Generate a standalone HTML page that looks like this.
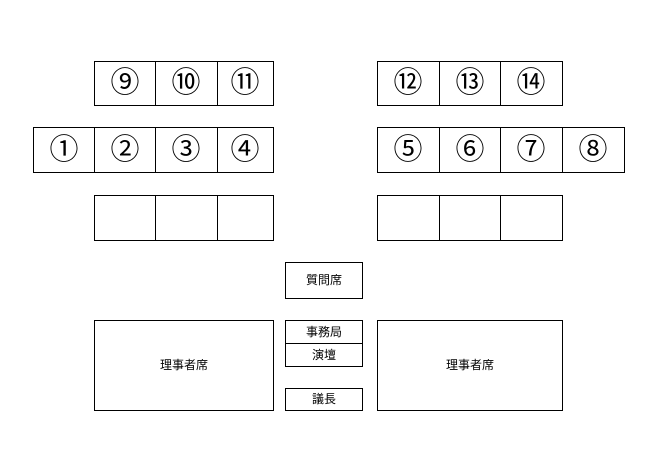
<!DOCTYPE html>
<html><head><meta charset="utf-8"><style>
html,body{margin:0;padding:0;background:#fff;}
svg{display:block}
text{font-family:"Liberation Sans","Noto Sans CJK JP",sans-serif;fill:#000;text-anchor:middle;dominant-baseline:central}
.n{font-size:29px}
.s{font-size:12px}
rect{fill:#fff;stroke:#000;stroke-width:1}
</style></head><body>
<svg width="654" height="466" xmlns="http://www.w3.org/2000/svg">
<g>
<rect x="94.5" y="61.5" width="61" height="44"/><rect x="155.5" y="61.5" width="62" height="44"/><rect x="217.5" y="61.5" width="56" height="44"/>
<text class="n" x="125" y="83">⑨</text><text class="n" x="186" y="83">⑩</text><text class="n" x="245" y="83">⑪</text>

<rect x="33.5" y="127.5" width="61" height="45"/><rect x="94.5" y="127.5" width="61" height="45"/><rect x="155.5" y="127.5" width="62" height="45"/><rect x="217.5" y="127.5" width="56" height="45"/>
<text class="n" x="64" y="150">①</text><text class="n" x="125" y="150">②</text><text class="n" x="186" y="150">③</text><text class="n" x="245" y="150">④</text>

<rect x="94.5" y="195.5" width="61" height="45"/><rect x="155.5" y="195.5" width="62" height="45"/><rect x="217.5" y="195.5" width="56" height="45"/>

<rect x="377.5" y="61.5" width="62" height="44"/><rect x="439.5" y="61.5" width="61" height="44"/><rect x="500.5" y="61.5" width="62" height="44"/>
<text class="n" x="408" y="83">⑫</text><text class="n" x="470" y="83">⑬</text><text class="n" x="531" y="83">⑭</text>

<rect x="377.5" y="127.5" width="62" height="45"/><rect x="439.5" y="127.5" width="61" height="45"/><rect x="500.5" y="127.5" width="62" height="45"/><rect x="562.5" y="127.5" width="62" height="45"/>
<text class="n" x="408" y="150">⑤</text><text class="n" x="470" y="150">⑥</text><text class="n" x="531" y="150">⑦</text><text class="n" x="593" y="150">⑧</text>

<rect x="377.5" y="195.5" width="62" height="45"/><rect x="439.5" y="195.5" width="61" height="45"/><rect x="500.5" y="195.5" width="62" height="45"/>

<rect x="285.5" y="262.5" width="77" height="36"/><text class="s" x="324" y="280">質問席</text>
<rect x="285.5" y="320.5" width="77" height="23"/><text class="s" x="324" y="332">事務局</text>
<rect x="285.5" y="343.5" width="77" height="23"/><text class="s" x="324" y="355">演壇</text>
<rect x="285.5" y="388.5" width="77" height="22"/><text class="s" x="324" y="399">議長</text>

<rect x="94.5" y="320.5" width="179" height="90"/><text class="s" x="184" y="365">理事者席</text>
<rect x="377.5" y="320.5" width="185" height="90"/><text class="s" x="470" y="365">理事者席</text>
</g>
</svg>
</body></html>
